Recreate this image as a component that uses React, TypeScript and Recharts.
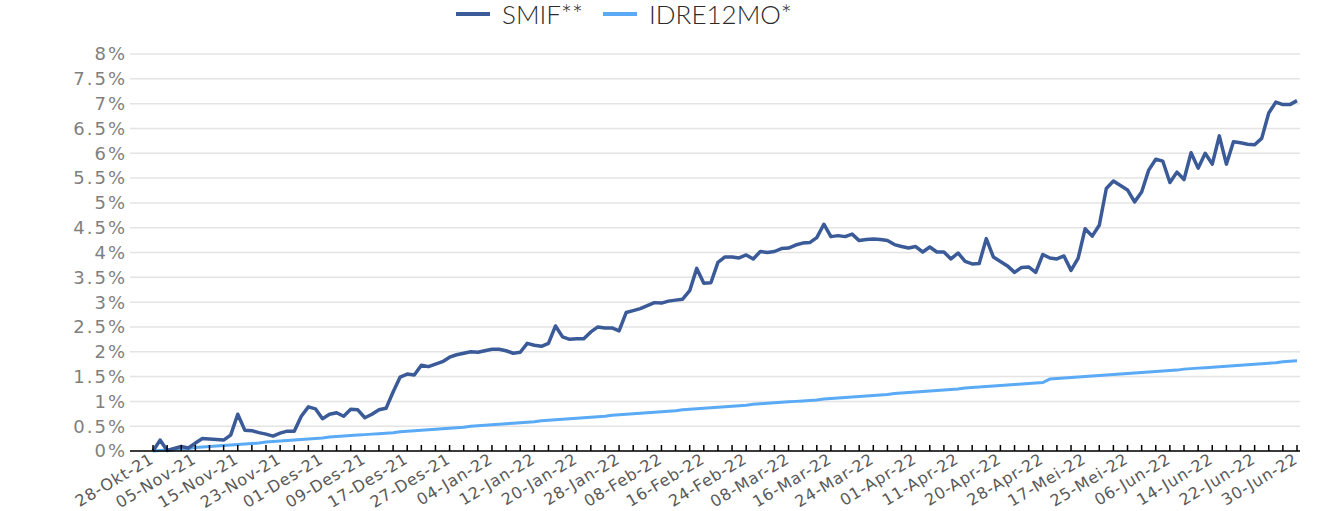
import { LineChart, Line, XAxis, YAxis, CartesianGrid } from 'recharts';

// one label every 6 trading days
const dateLabels = [
  '28-Okt-21', '05-Nov-21', '15-Nov-21', '23-Nov-21', '01-Des-21', '09-Des-21', '17-Des-21',
  '27-Des-21', '04-Jan-22', '12-Jan-22', '20-Jan-22', '28-Jan-22', '08-Feb-22', '16-Feb-22',
  '24-Feb-22', '08-Mar-22', '16-Mar-22', '24-Mar-22', '01-Apr-22', '11-Apr-22', '20-Apr-22',
  '28-Apr-22', '17-Mei-22', '25-Mei-22', '06-Jun-22', '14-Jun-22', '22-Jun-22', '30-Jun-22',
];

const smif = [
  0.00, 0.22, 0.01, 0.05, 0.09, 0.06, 0.16, 0.25, 0.24, 0.23, 0.22, 0.32, 0.74, 0.42, 0.41, 0.37,
  0.34, 0.30, 0.36, 0.40, 0.40, 0.70, 0.89, 0.85, 0.65, 0.74, 0.77, 0.70, 0.84, 0.83, 0.67, 0.74,
  0.83, 0.86, 1.19, 1.49, 1.55, 1.53, 1.73, 1.70, 1.75, 1.80, 1.89, 1.94, 1.97, 2.00, 1.99, 2.02,
  2.05, 2.05, 2.02, 1.97, 1.99, 2.17, 2.13, 2.11, 2.17, 2.52, 2.30, 2.25, 2.26, 2.26, 2.40, 2.50,
  2.48, 2.48, 2.42, 2.79, 2.83, 2.87, 2.93, 2.99, 2.98, 3.02, 3.04, 3.06, 3.23, 3.68, 3.38, 3.39,
  3.80, 3.91, 3.91, 3.89, 3.95, 3.87, 4.02, 4.00, 4.02, 4.08, 4.09, 4.15, 4.19, 4.20, 4.30, 4.57,
  4.32, 4.34, 4.32, 4.37, 4.24, 4.26, 4.27, 4.26, 4.24, 4.16, 4.12, 4.09, 4.12, 4.01, 4.11, 4.01,
  4.01, 3.87, 3.99, 3.82, 3.77, 3.78, 4.28, 3.91, 3.82, 3.73, 3.60, 3.70, 3.71, 3.60, 3.96, 3.89,
  3.87, 3.93, 3.64, 3.88, 4.48, 4.33, 4.55, 5.29, 5.44, 5.35, 5.26, 5.02, 5.22, 5.66, 5.88, 5.84,
  5.41, 5.62, 5.47, 6.01, 5.70, 6.00, 5.78, 6.35, 5.78, 6.23, 6.21, 6.18, 6.17, 6.30, 6.81, 7.03,
  6.98, 6.98, 7.06,
];

const idre = [
  0.00, 0.01, 0.02, 0.03, 0.04, 0.05, 0.07, 0.08, 0.09, 0.10, 0.11, 0.12, 0.13, 0.14, 0.15, 0.16,
  0.18, 0.19, 0.20, 0.21, 0.22, 0.23, 0.24, 0.25, 0.26, 0.28, 0.29, 0.30, 0.31, 0.32, 0.33, 0.34,
  0.35, 0.36, 0.37, 0.39, 0.40, 0.41, 0.42, 0.43, 0.44, 0.45, 0.46, 0.47, 0.48, 0.50, 0.51, 0.52,
  0.53, 0.54, 0.55, 0.56, 0.57, 0.58, 0.59, 0.61, 0.62, 0.63, 0.64, 0.65, 0.66, 0.67, 0.68, 0.69,
  0.70, 0.72, 0.73, 0.74, 0.75, 0.76, 0.77, 0.78, 0.79, 0.80, 0.81, 0.83, 0.84, 0.85, 0.86, 0.87,
  0.88, 0.89, 0.90, 0.91, 0.92, 0.94, 0.95, 0.96, 0.97, 0.98, 0.99, 1.00, 1.01, 1.02, 1.03, 1.05,
  1.06, 1.07, 1.08, 1.09, 1.10, 1.11, 1.12, 1.13, 1.14, 1.16, 1.17, 1.18, 1.19, 1.20, 1.21, 1.22,
  1.23, 1.24, 1.25, 1.27, 1.28, 1.29, 1.30, 1.31, 1.32, 1.33, 1.34, 1.35, 1.36, 1.37, 1.38, 1.45,
  1.46, 1.47, 1.48, 1.49, 1.50, 1.51, 1.52, 1.53, 1.54, 1.55, 1.56, 1.57, 1.58, 1.59, 1.60, 1.61,
  1.62, 1.63, 1.65, 1.66, 1.67, 1.68, 1.69, 1.70, 1.71, 1.72, 1.73, 1.74, 1.75, 1.76, 1.77, 1.78,
  1.80, 1.81, 1.82,
];

const yTicks = [0, 0.5, 1, 1.5, 2, 2.5, 3, 3.5, 4, 4.5, 5, 5.5, 6, 6.5, 7, 7.5, 8];

const series = [
  { key: 'smif', name: 'SMIF**', color: '#3a5a98' },
  { key: 'idre', name: 'IDRE12MO*', color: '#5aaaf5' },
];

const data = smif.map((v, i) => ({ idx: i, smif: v, idre: idre[i] }));
const xTicks = data.map((d) => d.idx).filter((i) => i % 2 === 0);

const axisFont = '"DejaVu Sans", sans-serif';

function DateTick(props: any) {
  const { x, y, payload } = props;
  const i = payload.value;
  const label = i % 6 === 0 ? dateLabels[i / 6] : '';
  const tx = x + 2;
  const ty = y + 11;
  return (
    <g>
      <line x1={x} x2={x} y1={y - 6} y2={y} stroke="#000" strokeWidth={1.5} />
      {label && (
        <text
          x={tx}
          y={ty}
          transform={`rotate(-31 ${tx} ${ty})`}
          textAnchor="end"
          fill="#595959"
          fontSize={16}
          fontFamily={axisFont}
          letterSpacing={0.8}
        >
          {label}
        </text>
      )}
    </g>
  );
}

export default function App() {
  return (
    <div style={{ position: 'absolute', left: 0, top: 0, width: 1325, height: 511, background: '#fff' }}>
      <div
        style={{
          position: 'absolute',
          left: 456,
          top: 0,
          display: 'flex',
          alignItems: 'center',
          height: 28,
          fontFamily: 'Lato, sans-serif',
          fontWeight: 300,
          fontSize: 26,
          color: '#2b2b2b',
          whiteSpace: 'nowrap',
        }}
      >
        {series.map((s, k) => (
          <div key={s.key} style={{ display: 'flex', alignItems: 'center', marginRight: k === 0 ? 20 : 0 }}>
            <span style={{ display: 'inline-block', width: 34, height: 4, background: s.color, marginRight: 12 }} />
            <span>{s.name}</span>
          </div>
        ))}
      </div>
      <LineChart width={1325} height={511} data={data} margin={{ top: 54, right: 25, left: 0, bottom: 0 }}>
        <CartesianGrid vertical={false} stroke="#e4e4e4" strokeWidth={1.5} />
        <XAxis
          dataKey="idx"
          type="number"
          domain={[0, 162]}
          ticks={xTicks}
          interval={0}
          padding={{ left: 23, right: 3 }}
          height={60}
          tickSize={0}
          tickMargin={0}
          tickLine={false}
          axisLine={{ stroke: '#000', strokeWidth: 1.5 }}
          tick={<DateTick />}
        />
        <YAxis
          width={130}
          domain={[0, 8]}
          ticks={yTicks}
          interval={0}
          axisLine={false}
          tickLine={false}
          tickSize={0}
          tickMargin={3}
          tickFormatter={(v: number) => `${v}%`}
          tick={{ fill: '#7f7f7f', fontSize: 18, fontFamily: axisFont, letterSpacing: 2 }}
        />
        <Line
          type="linear"
          dataKey="idre"
          name="IDRE12MO*"
          stroke="#5aaaf5"
          strokeWidth={3}
          dot={false}
          isAnimationActive={false}
        />
        <Line
          type="linear"
          dataKey="smif"
          name="SMIF**"
          stroke="#3a5a98"
          strokeWidth={3.5}
          strokeLinejoin="round"
          dot={false}
          isAnimationActive={false}
        />
      </LineChart>
    </div>
  );
}
